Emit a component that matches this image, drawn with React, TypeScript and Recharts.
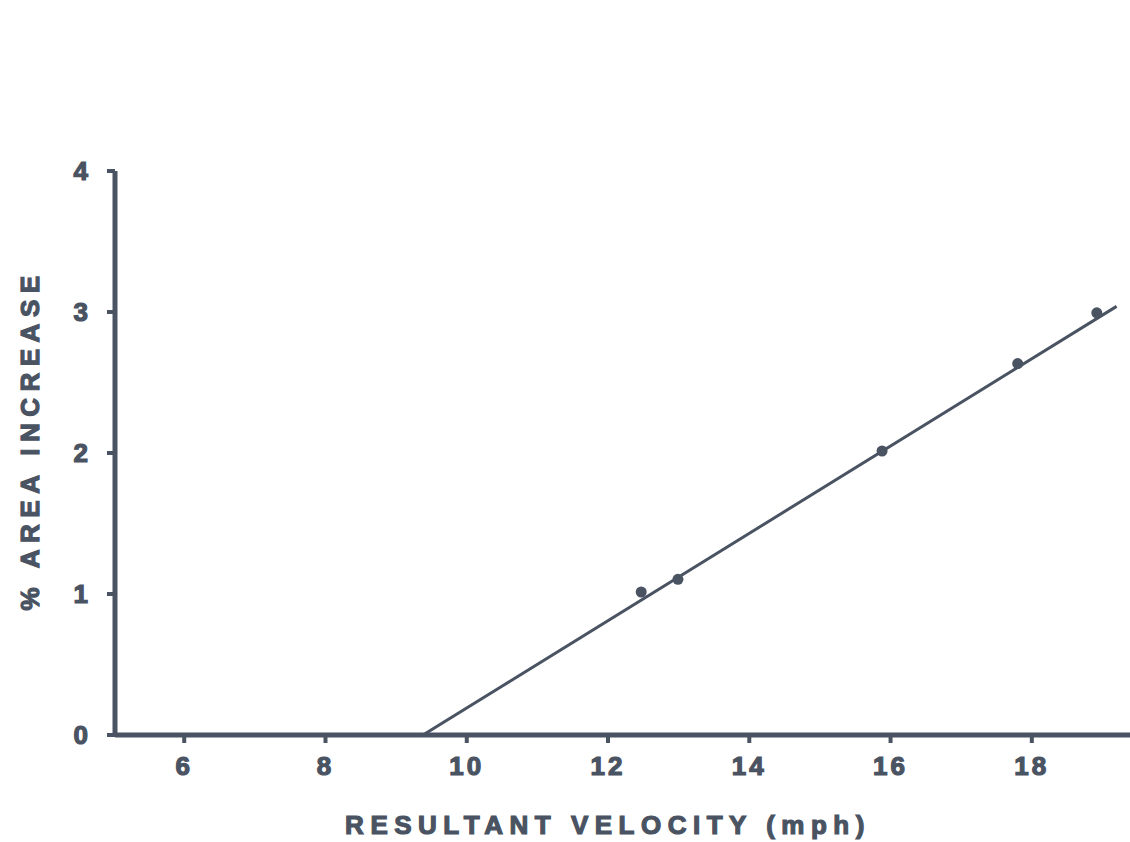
import React from "react";
import { ComposedChart, Line, Scatter, XAxis, YAxis } from "recharts";

const xTicks = [6, 8, 10, 12, 14, 16, 18];
const yTicks = [0, 1, 2, 3, 4];
const measuredPoints = [
  { x: 12.47, y: 1.0 },
  { x: 12.99, y: 1.09 },
  { x: 15.88, y: 2.0 },
  { x: 17.8, y: 2.62 },
  { x: 18.92, y: 2.98 },
];
const fitLine = [
  { x: 5.0, y: 0 },
  { x: 9.38, y: 0 },
  { x: 19.2, y: 3.04 },
];
const xTitle = "RESULTANT VELOCITY (mph)";
const yTitle = "% AREA INCREASE";

const INK = "#4a5362";
const FONT = "'Liberation Sans', Arial, Helvetica, sans-serif";

const XTick = (props: any) => {
  const { x, y, payload } = props;
  return (
    <text x={x} y={y} dy="0.71em" textAnchor="middle" fill={INK} stroke={INK} strokeWidth={1.2} fontFamily={FONT} fontWeight="bold" fontSize={26} letterSpacing={3}>
      {payload.value}
    </text>
  );
};

const YTick = (props: any) => {
  const { x, y, payload } = props;
  return (
    <text x={x} y={y} dy="0.36em" textAnchor="end" fill={INK} stroke={INK} strokeWidth={1.2} fontFamily={FONT} fontWeight="bold" fontSize={26}>
      {payload.value}
    </text>
  );
};

const XTitle = () => (
  <text x={608} y={834} textAnchor="middle" fill={INK} stroke={INK} strokeWidth={1.2} fontFamily={FONT} fontWeight="bold" fontSize={26} letterSpacing={6.5}>
    {xTitle}
  </text>
);

const YTitle = () => (
  <text x={30} y={440} transform="rotate(-90 30 440)" textAnchor="middle" dominantBaseline="central" fill={INK} stroke={INK} strokeWidth={1.2} fontFamily={FONT} fontWeight="bold" fontSize={26} letterSpacing={6.5}>
    {yTitle}
  </text>
);

const Dot = (props: any) => {
  const { cx, cy } = props;
  return <circle cx={cx} cy={cy - 2} r={5.5} fill={INK} />;
};

export default function App() {
  return (
    <div style={{ position: "absolute", left: 0, top: 0, width: 1130, height: 842, background: "#fff" }}>
      <ComposedChart width={1130} height={842} margin={{ top: 171, right: 0, bottom: 0, left: 0 }}>
        <XAxis
          dataKey="x"
          type="number"
          domain={[5.02, 19.39]}
          allowDataOverflow
          ticks={xTicks}
          height={107}
          tickSize={8}
          tickMargin={14}
          axisLine={{ stroke: INK, strokeWidth: 5 }}
          tickLine={{ stroke: INK, strokeWidth: 4 }}
          tick={<XTick />}
          label={{ content: () => <XTitle /> }}
        />
        <YAxis
          type="number"
          domain={[0, 4]}
          ticks={yTicks}
          width={115}
          tickSize={8}
          tickMargin={19}
          axisLine={{ stroke: INK, strokeWidth: 5 }}
          tickLine={{ stroke: INK, strokeWidth: 4 }}
          tick={<YTick />}
          label={{ content: () => <YTitle /> }}
        />
        <Line
          data={fitLine}
          dataKey="y"
          type="linear"
          stroke={INK}
          strokeWidth={3}
          dot={false}
          activeDot={false}
          isAnimationActive={false}
        />
        <Scatter data={measuredPoints} dataKey="y" shape={<Dot />} isAnimationActive={false} />
      </ComposedChart>
    </div>
  );
}
